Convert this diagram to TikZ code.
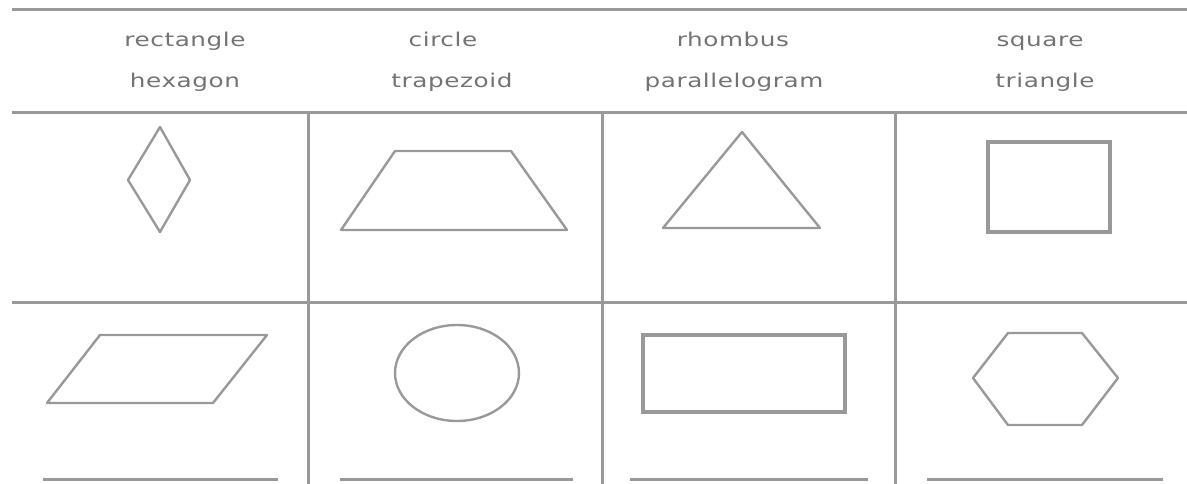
\documentclass[tikz,border=0pt]{standalone}
\usepackage{fontspec}
\setmainfont{DejaVu Sans}
\newfontfamily\wordfont[FakeStretch=1.3,LetterSpace=3]{DejaVu Sans}
\begin{document}
\begin{tikzpicture}[x=1pt, y=-1pt,
    rule/.style={draw=gray!80, line width=3pt},
    outline/.style={draw=gray!80, line width=2.4pt, line join=round},
    heavy/.style={draw=gray!80, line width=3.6pt},
    word/.style={text=black!55, font=\wordfont\fontsize{19}{23}\selectfont, inner sep=0pt, anchor=base},
    blank/.style={draw=gray!80, line width=3pt}]
\useasboundingbox (0,0) rectangle (1187,484);
% table rules
\coordinate (tl) at (12,10);
\coordinate (tr) at (1187,10);
\coordinate (hl) at (12,113);
\coordinate (hr) at (1187,113);
\coordinate (ml) at (12,302);
\coordinate (mr) at (1187,302);
\draw[rule] (tl) -- (tr);
\draw[rule] (hl) -- (hr);
\draw[rule] (ml) -- (mr);
\foreach \x in {308,602,895}
  \draw[rule] (\x,113) -- (\x,484);
% word bank
\node (rectangle) [word] at (185,47) {rectangle};
\node (hexagon) [word] at (185,88) {hexagon};
\node (circle) [word] at (443,47) {circle};
\node (trapezoid) [word] at (452,88) {trapezoid};
\node (rhombus) [word] at (733,47) {rhombus};
\node (parallelogram) [word] at (734,88) {parallelogram};
\node (square) [word] at (1040,47) {square};
\node (triangle) [word] at (1045,88) {triangle};
% first row
\draw[outline] (160,127) -- (190,180) -- (160,232) -- (128,180) -- cycle;
\draw[outline] (395,151) -- (511,151) -- (567,230) -- (341,230) -- cycle;
\draw[outline] (742,132) -- (820,228) -- (663,228) -- cycle;
\draw[heavy] (988,142) rectangle (1110,232);
% second row
\draw[outline] (100,335) -- (267,335) -- (213,403) -- (47,403) -- cycle;
\draw[outline] (457,373) ellipse [x radius=62, y radius=48];
\draw[heavy] (643,335) rectangle (845,412);
\draw[outline] (973,378) -- (1008,333) -- (1082,333) -- (1118,378) -- (1082,425) -- (1008,425) -- cycle;
% answer lines
\draw[blank] (43,479) -- (278,479);
\draw[blank] (340,479) -- (573,479);
\draw[blank] (630,479) -- (868,479);
\draw[blank] (927,479) -- (1163,479);
\end{tikzpicture}
\end{document}
